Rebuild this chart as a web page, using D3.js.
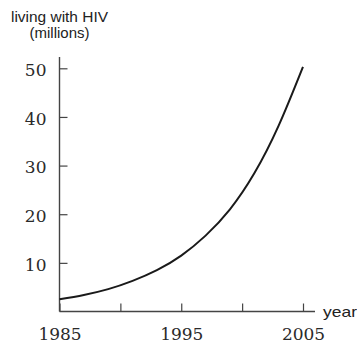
<!DOCTYPE html>
<html>
<head>
<meta charset="utf-8">
<script src="https://cdn.jsdelivr.net/npm/d3@7/dist/d3.min.js"></script>
<style>
  html, body { margin: 0; padding: 0; background: #fff; }
  svg { display: block; }
</style>
</head>
<body>
<script>
// People living with HIV, in millions, by year
const years = [1985, 1987, 1989, 1991, 1993, 1995, 1997, 1999, 2001, 2003, 2005];
const living = [2.5, 3.4, 4.6, 6.3, 8.5, 11.5, 15.6, 21.0, 28.4, 38.2, 50.3];

const xTicks = [1985, 1990, 1995, 2000, 2005];
const xTickLabels = ["1985", "", "1995", "", "2005"];
const yTicks = [10, 20, 30, 40, 50];

const W = 357, H = 345;
const svg = d3.select("body").append("svg").attr("width", W).attr("height", H);

const x = d3.scaleLinear().domain([1985, 2005]).range([59.5, 303]);
const y = d3.scaleLinear().domain([0, 50]).range([311.5, 68.3]);

const axisColor = "#444";
const serif = "'DejaVu Serif', serif";
const sans = "'Liberation Sans', Arial, sans-serif";

// axis lines
svg.append("line")
  .attr("x1", x(1985)).attr("x2", 315)
  .attr("y1", y(0)).attr("y2", y(0))
  .attr("stroke", axisColor).attr("stroke-width", 1.4);
svg.append("line")
  .attr("x1", x(1985)).attr("x2", x(1985))
  .attr("y1", 57).attr("y2", y(0))
  .attr("stroke", axisColor).attr("stroke-width", 1.4);

// y axis ticks pointing inward
const yAxis = svg.append("g")
  .attr("transform", `translate(${x(1985)},0)`)
  .call(d3.axisLeft(y).tickValues(yTicks).tickSizeInner(-8).tickSizeOuter(0).tickPadding(13));
yAxis.select(".domain").remove();
yAxis.selectAll(".tick line").attr("stroke", axisColor).attr("stroke-width", 1.2);
yAxis.selectAll(".tick text")
  .attr("dy", "0.42em")
  .attr("fill", "#2a2a2a")
  .style("font-family", serif).style("font-size", "17px");

// x axis ticks pointing upward
const xAxis = svg.append("g")
  .attr("transform", `translate(0,${y(0)})`)
  .call(d3.axisBottom(x).tickValues(xTicks).tickSizeInner(-8).tickSizeOuter(0).tickPadding(16.5)
    .tickFormat((d, i) => xTickLabels[i]));
xAxis.select(".domain").remove();
xAxis.selectAll(".tick line").attr("stroke", axisColor).attr("stroke-width", 1.2);
xAxis.selectAll(".tick text")
  .attr("fill", "#2a2a2a")
  .style("font-family", serif).style("font-size", "17px");

// curve
const line = d3.line()
  .x((d, i) => x(years[i]))
  .y(d => y(d))
  .curve(d3.curveNatural);
svg.append("path")
  .datum(living)
  .attr("d", line)
  .attr("fill", "none")
  .attr("stroke", "#1a1a1a")
  .attr("stroke-width", 2);

// axis titles (narrow sans)
svg.append("text")
  .attr("x", x(1985)).attr("y", 22)
  .attr("text-anchor", "middle")
  .attr("fill", "#222")
  .attr("textLength", 97).attr("lengthAdjust", "spacingAndGlyphs")
  .style("font-family", sans).style("font-size", "14px")
  .text("living with HIV");
svg.append("text")
  .attr("x", x(1985)).attr("y", 38)
  .attr("text-anchor", "middle")
  .attr("fill", "#222")
  .attr("textLength", 60).attr("lengthAdjust", "spacingAndGlyphs")
  .style("font-family", sans).style("font-size", "14px")
  .text("(millions)");
svg.append("text")
  .attr("x", 323).attr("y", 316.5)
  .attr("fill", "#222")
  .attr("textLength", 34).attr("lengthAdjust", "spacingAndGlyphs")
  .style("font-family", sans).style("font-size", "15px")
  .text("year");
</script>
</body>
</html>
